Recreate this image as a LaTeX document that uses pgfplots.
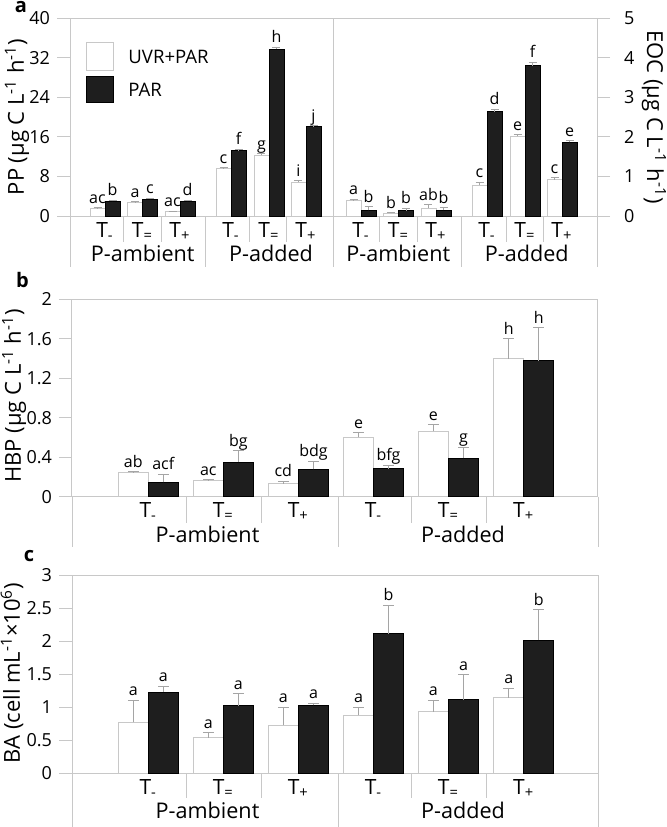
\documentclass[border=0pt]{standalone}
\usepackage{fontspec}
\setmainfont{Open Sans}
\usepackage{pgfplots}
\pgfplotsset{compat=1.18}
\usepackage{pgfplotstable}
\definecolor{lgray}{RGB}{200,200,200}
\definecolor{egray}{RGB}{165,165,165}
\definecolor{barblack}{RGB}{30,30,30}
\newcommand\fs[1]{\fontsize{#1}{#1}\selectfont}
\newcommand\Tm{T\textsubscript{-}}
\newcommand\Te{T\textsubscript{=}}
\newcommand\Tp{T\textsubscript{+}}

% Panel a, PP (left scale)
\pgfplotstableread{
x     y     e    lab
97.5  1.6   0.1  ac
135   2.8   0.1  a
172.5 0.9   0.1  ac
223.5 9.6   0.2  c
261.5 12.3  0.3  g
298.5 6.8   0.3  i
}\ppW
\pgfplotstableread{
x     y     e    lab
112.5 3.0   0.2  b
150   3.4   0.2  c
187.5 3.0   0.2  d
238.5 13.2  0.3  f
276.5 33.7  0.4  h
313.5 18.0  0.2  j
}\ppB
% Panel a, EOC (right scale)
\pgfplotstableread{
x     y     e    lab
353.5 0.38  0.04 a
391   0.07  0.02 b
428.5 0.19  0.10 ab
479.5 0.78  0.07 c
517.5 2.01  0.05 e
554.5 0.91  0.06 c
}\eocW
\pgfplotstableread{
x     y     e    lab
368.5 0.14  0.09 b
406   0.13  0.07 b
443.5 0.15  0.06 b
494.5 2.63  0.07 d
532.5 3.79  0.09 f
569.5 1.86  0.04 e
}\eocB
% Panel b, HBP
\pgfplotstableread{
x     y     e     lab
133.3 0.247 0.005 ab
208.3 0.162 0.008 ac
283.3 0.129 0.027 cd
358.5 0.600 0.050 e
433.3 0.663 0.067 e
508.7 1.398 0.200 h
}\hbpW
\pgfplotstableread{
x     y     e     lab
163.3 0.146 0.081 acf
238.3 0.351 0.115 bg
313.5 0.277 0.081 bdg
388.5 0.281 0.037 bfg
463.5 0.392 0.108 g
538.8 1.375 0.335 h
}\hbpB
% Panel c, BA
\pgfplotstableread{
x     y     e     lab
133.3 0.774 0.334 a
208.3 0.540 0.077 a
283.3 0.729 0.271 a
358.5 0.880 0.120 a
433.3 0.930 0.178 a
508.7 1.143 0.147 a
}\baW
\pgfplotstableread{
x     y     e     lab
163.3 1.230 0.090 a
238.3 1.022 0.182 a
313.5 1.032 0.031 a
388.5 2.115 0.435 b
463.5 1.117 0.380 a
538.8 2.019 0.461 b
}\baB

\pgfplotsset{
  panel/.style={
    scale only axis, clip=false, enlargelimits=false,
    axis line style={lgray, line width=0.5pt},
    ytick align=outside, major tick length=6.5pt,
    ytick style={lgray, line width=0.5pt},
    xtick style={draw=none},
    yticklabel style={font=\fs{9}, text=black},
    xticklabel style={font=\fs{10.5}, anchor=base, yshift=-10.5pt, text=black},
    xticklabels={\Tm,\Te,\Tp,\Tm,\Te,\Tp},
  },
  wbar/.style 2 args={ybar, bar shift=0pt, bar width=#1, fill=white, draw=lgray, line width=0.5pt,
    error bars/y dir=plus, error bars/y explicit,
    error bars/error bar style={egray, line width=0.5pt},
    error bars/error mark options={rotate=90, egray, mark size=#2, line width=0.5pt}},
  bbar/.style 2 args={ybar, bar shift=0pt, bar width=#1, fill=barblack, draw=black, line width=0.5pt,
    error bars/y dir=plus, error bars/y explicit,
    error bars/error bar style={egray, line width=0.5pt},
    error bars/error mark options={rotate=90, egray, mark size=#2, line width=0.5pt}},
  labs/.style={draw=none, mark=none, nodes near coords, point meta=explicit symbolic,
    every node near coord/.append style={font=\fs{8}, anchor=south, text depth=0pt,
      inner sep=0pt, yshift=2pt, text=black}},
}

\begin{document}
\begin{tikzpicture}
\useasboundingbox (0,0) rectangle (333pt,-413.5pt);

% ---------- panel a, left (PP) ----------
\begin{axis}[panel, at={(35pt,-108pt)}, anchor=south west,
  width=131.5pt, height=99pt,
  xmin=70, xmax=333, ymin=0, ymax=40,
  ytick={0,8,16,24,32,40}, yticklabels={0,8,16,24,32,40}, ytick pos=left,
  xtick={105,142.5,180,231,269,306},
  every axis y label/.style={at={(axis description cs:-0.2015,0.5)}, rotate=90, anchor=center, font=\fs{11}},
  ylabel={PP (µg C L\textsuperscript{-1} h\textsuperscript{-1})}]
\addplot[wbar={15}{2pt}] table[x=x, y=y, y error=e] {\ppW};
\addplot[bbar={15}{2pt}] table[x=x, y=y, y error=e] {\ppB};
\addplot[labs] table[x=x, y expr=\thisrow{y}+\thisrow{e}, meta=lab] {\ppW};
\addplot[labs] table[x=x, y expr=\thisrow{y}+\thisrow{e}, meta=lab] {\ppB};
\end{axis}

% ---------- panel a, right (EOC) ----------
\begin{axis}[panel, at={(166.5pt,-108pt)}, anchor=south west,
  width=132pt, height=99pt,
  xmin=333, xmax=597, ymin=0, ymax=5,
  ytick={0,1,2,3,4,5}, yticklabels={0,1,2,3,4,5}, ytick pos=right, yticklabel pos=right,
  yticklabel style={xshift=3.5pt},
  xtick={361,398.5,436,487,525,562},
  every axis y label/.style={at={(axis description cs:1.216,0.5)}, rotate=-90, anchor=center, font=\fs{11}},
  ylabel={EOC (µg C L\textsuperscript{-1} h\textsuperscript{-1})}]
\addplot[wbar={15}{2pt}] table[x=x, y=y, y error=e] {\eocW};
\addplot[bbar={15}{2pt}] table[x=x, y=y, y error=e] {\eocB};
\addplot[labs] table[x=x, y expr=\thisrow{y}+\thisrow{e}, meta=lab] {\eocW};
\addplot[labs] table[x=x, y expr=\thisrow{y}+\thisrow{e}, meta=lab] {\eocB};
\end{axis}

% ---------- panel b (HBP) ----------
\begin{axis}[panel, at={(36pt,-248.35pt)}, anchor=south west,
  width=263pt, height=98.7pt,
  xmin=72, xmax=598, ymin=0, ymax=2,
  ytick={0,0.4,0.8,1.2,1.6,2}, yticklabels={0,0.4,0.8,1.2,1.6,2}, ytick pos=left,
  xtick={148.3,223.3,298.3,373.5,448.4,523.7},
  every axis y label/.style={at={(axis description cs:-0.110,0.51)}, rotate=90, anchor=center, font=\fs{11}},
  ylabel={HBP (µg C L\textsuperscript{-1} h\textsuperscript{-1})}]
\addplot[wbar={30}{2.7pt}] table[x=x, y=y, y error=e] {\hbpW};
\addplot[bbar={30}{2.7pt}] table[x=x, y=y, y error=e] {\hbpB};
\addplot[labs] table[x=x, y expr=\thisrow{y}+\thisrow{e}, meta=lab] {\hbpW};
\addplot[labs] table[x=x, y expr=\thisrow{y}+\thisrow{e}, meta=lab] {\hbpB};
\end{axis}

% ---------- panel c (BA) ----------
\begin{axis}[panel, at={(36pt,-386.65pt)}, anchor=south west,
  width=263pt, height=98.9pt,
  xmin=72, xmax=598, ymin=0, ymax=3,
  ytick={0,0.5,1,1.5,2,2.5,3}, yticklabels={0,0.5,1,1.5,2,2.5,3}, ytick pos=left,
  xtick={148.3,223.3,298.3,373.5,448.4,523.7},
  every axis y label/.style={at={(axis description cs:-0.114,0.507)}, rotate=90, anchor=center, font=\fs{11}},
  ylabel={BA (cell mL\textsuperscript{-1}×10\textsuperscript{6})}]
\addplot[wbar={30}{2.7pt}] table[x=x, y=y, y error=e] {\baW};
\addplot[bbar={30}{2.7pt}] table[x=x, y=y, y error=e] {\baB};
\addplot[labs] table[x=x, y expr=\thisrow{y}+\thisrow{e}, meta=lab] {\baW};
\addplot[labs] table[x=x, y expr=\thisrow{y}+\thisrow{e}, meta=lab] {\baB};
\end{axis}

% ---------- decorations (pixel units) ----------
\begin{scope}[x=0.5pt, y=-0.5pt]
  \begin{scope}[lgray, line width=0.5pt]
    % panel a
    \foreach \x in {70,205.5,333,461.7,597} \draw (\x,216) -- (\x,267);
    \foreach \x in {123.75,161.25,249,286.5,379.75,417.25,506,543.5} \draw (\x,216) -- (\x,242);
    % panel b
    \foreach \x in {72,338,598} \draw (\x,496.7) -- (\x,547);
    \foreach \x in {186,261.5,411.5,486} \draw (\x,496.7) -- (\x,523);
    % panel c
    \foreach \x in {72,338,598} \draw (\x,773.3) -- (\x,827);
    \foreach \x in {186,261.5,411.5,486} \draw (\x,773.3) -- (\x,798);
  \end{scope}
  % group labels
  \begin{scope}[font=\fs{10.8}]
    \node[anchor=base] at (142.7,261.7) {P-ambient};
    \node[anchor=base] at (271,261.7) {P-added};
    \node[anchor=base] at (398.3,261.7) {P-ambient};
    \node[anchor=base] at (526.7,261.7) {P-added};
    \node[anchor=base] at (207.5,542.3) {P-ambient};
    \node[anchor=base] at (463,542.3) {P-added};
    \node[anchor=base] at (207.5,818.5) {P-ambient};
    \node[anchor=base] at (463,818.5) {P-added};
  \end{scope}
  % legend
  \draw[lgray, line width=0.5pt, fill=white] (86,42.7) rectangle (113,70);
  \draw[black, line width=0.5pt, fill=barblack] (86,76) rectangle (113,102.7);
  \node[anchor=west, font=\fs{9.3}, inner sep=0pt] at (128,57) {UVR+PAR};
  \node[anchor=west, font=\fs{9.3}, inner sep=0pt] at (128,90) {PAR};
  % panel letters
  \node[font=\fs{10}\bfseries, anchor=base, inner sep=0pt] at (21,12.5) {a};
  \node[font=\fs{10}\bfseries, anchor=base, inner sep=0pt] at (22.5,287) {b};
  \node[font=\fs{10}\bfseries, anchor=base, inner sep=0pt] at (29,561.7) {c};
\end{scope}
\end{tikzpicture}
\end{document}
